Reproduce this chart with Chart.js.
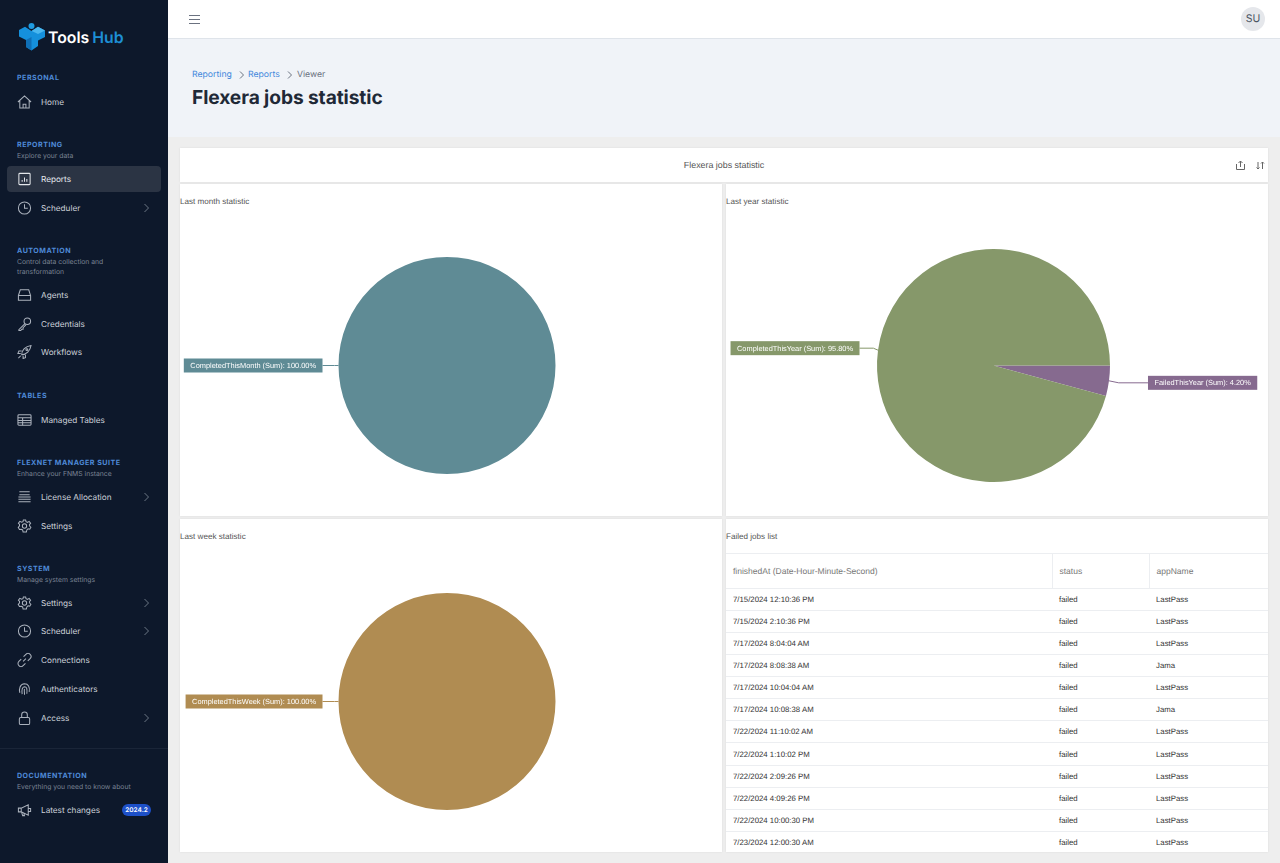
<!DOCTYPE html>
<html>
<head>
<meta charset="utf-8">
<title>Flexera jobs statistic</title>
<script src="https://cdn.jsdelivr.net/npm/chart.js@4/dist/chart.umd.min.js"></script>
<style>
* { box-sizing: border-box; }
html, body { margin: 0; width: 1280px; height: 863px; overflow: hidden; background: #eeeeee; font-family: Inter, sans-serif; text-rendering: geometricPrecision; }
.abs { position: absolute; white-space: nowrap; }
#side { position: absolute; left: 0; top: 0; width: 168px; height: 863px; background: #0d182b; }
#side .sec { position: absolute; left: 17px; font-size: 7.1px; font-weight: 700; letter-spacing: .5px; color: #4f8ad8; white-space: nowrap; margin-top: 1px; }
#side .sub { position: absolute; left: 17px; font-size: 6.8px; line-height: 10px; color: #7b8494; white-space: nowrap; margin-top: 1px; }
#side .item { position: absolute; left: 41px; font-size: 8.2px; color: #ccd1d9; white-space: nowrap; transform: translateY(-50%); }
#side svg.ic { position: absolute; left: 17px; width: 15px; height: 15px; fill: none; stroke: #aab1bc; stroke-width: 1.1; transform: translateY(-50%); }
#side svg.ch { position: absolute; left: 143px; width: 7px; height: 9px; fill: none; stroke: #6d7685; stroke-width: 1; transform: translateY(-50%); }
#head { position: absolute; left: 168px; top: 0; width: 1112px; height: 39px; background: #fff; border-bottom: 1px solid #dfe4ea; }
#band { position: absolute; left: 168px; top: 39px; width: 1112px; height: 98px; background: #f0f3f8; }
.panel { position: absolute; background: #fff; box-shadow: 0 0 2px rgba(0,0,0,.08); }
.ptitle { position: absolute; font: 8.1px "Liberation Sans", sans-serif; color: #555; white-space: nowrap; }
canvas { position: absolute; left: 0; top: 0; }
#tbl { position: absolute; left: 0; top: 34px; width: 542px; height: 299px; overflow: hidden; }
table { border-collapse: collapse; width: 542px; table-layout: fixed; font: 7.8px "Liberation Sans", sans-serif; color: #333; }
th { font-weight: 400; font-size: 8.5px; color: #777; text-align: left; height: 34.5px; padding: 0 0 0 7px; border: 1px solid #eceef1; border-left: 0; border-right: 1px solid #eceef1; }
td { height: 22.15px; padding: 0 0 0 7px; border-bottom: 1px solid #eceef1; }
</style>
</head>
<body>
<svg width="0" height="0" style="position:absolute">
  <symbol id="i-home" viewBox="0 0 16 16"><path d="M1 8 8 1.5 15 8M3 6.5V14.5H13V6.5M6.5 14.5V10.5H9.5V14.5"/></symbol>
  <symbol id="i-rep" viewBox="0 0 16 16"><rect x="2" y="2" width="12" height="12" rx="1"/><path d="M5.5 11V9M8 11V6.5M10.5 11V8"/></symbol>
  <symbol id="i-clock" viewBox="0 0 16 16"><circle cx="8" cy="8" r="6.5"/><path d="M8 4V8.3H11.5"/></symbol>
  <symbol id="i-agent" viewBox="0 0 16 16"><path d="M1.5 8.5 3.5 2.5H12.5L14.5 8.5V13.5H1.5ZM1.5 8.5H14.5"/></symbol>
  <symbol id="i-key" viewBox="0 0 16 16"><circle cx="11" cy="5" r="3.5"/><path d="M8.5 7.5 2 14V15H4L5 13.5H6.5V12L9.5 9"/></symbol>
  <symbol id="i-rocket" viewBox="0 0 16 16"><path d="M5 11C5 6 9 2 15 1C14 7 10 11 5 11ZM5 7H2L1 9.500 4 9.500M9 11V14L6.500 15V12M4 12 1.500 14.500"/><circle cx="10.500" cy="5.500" r="1"/></symbol>
  <symbol id="i-table" viewBox="0 0 16 16"><rect x="1" y="2.500" width="14" height="11" rx="1"/><path d="M1 5.500H15M1 8.500H15M1 11H15M6 5.500V13.500"/></symbol>
  <symbol id="i-lic" viewBox="0 0 16 16"><path d="M2.500 2.500H13.500M2.500 5.500H13.500M1.500 8H14.500M1.500 10.500H14.500M1.500 13H14.500"/></symbol>
  <symbol id="i-gear" viewBox="0 0 16 16"><circle cx="8" cy="8" r="2.300"/><path d="M6.800 1.500H9.200L9.600 3.400 11.200 4.100 12.900 3.100 14.500 5 13.300 6.500 13.500 8 14.800 9.300 13.600 11.400 11.800 11 10.500 12.200 10 14.500H6.500L6 12.200 4.500 11.400 2.600 11.700 1.300 9.400 2.600 8 2.700 6.400 1.500 5 3 3.100 4.900 4 6.400 3.300Z"/></symbol>
  <symbol id="i-link" viewBox="0 0 16 16"><path d="M6.500 9.500 9.500 6.500M7 4.500 9.500 2A3 3 0 0 1 14 6.500L11.500 9M9 11.500 6.500 14A3 3 0 0 1 2 9.500L4.500 7"/></symbol>
  <symbol id="i-finger" viewBox="0 0 16 16"><path d="M3 12C2 8 3 3 8 2.500C12 2.500 14 6 13 11M5.500 13.500C5 10 5 6 8 5.500C10.500 5.500 11 8 10.500 13M8 14C8 11 7.500 9.500 8 8"/></symbol>
  <symbol id="i-lock" viewBox="0 0 16 16"><rect x="2.500" y="7.500" width="11" height="7.500" rx="1.500"/><path d="M5 7.500V4.500A3 3 0 0 1 11 4.500V7.500"/></symbol>
  <symbol id="i-mega" viewBox="0 0 16 16"><path d="M1.500 6V10H4.500L12 13.500V2.500L4.500 6ZM4.500 6V10M5 10.500 6 14H8L7.300 11.500M12 6.500H14.500V9.500H12"/></symbol>
  <symbol id="i-chev" viewBox="0 0 7 9"><path d="M1.500 .5 5.500 4.500 1.500 8.500"/></symbol>
</svg>

<div id="side">
  <svg class="abs" style="left:18px;top:22px" width="28" height="29" viewBox="0 0 28 29">
    <circle cx="13.500" cy="4" r="3" fill="#1f9be0"/>
    <path d="M1 8 7 4.800 13.500 9 20 4.800 27 8.500V15L20 18.500V24L13.500 28.500 8 25V18L1 14.500Z" fill="#1590dc"/>
    <path d="M13.500 9 20 4.800 27 8.500 20 12 17 10.500Z" fill="#4ab6ee"/>
    <path d="M8 18V25L13.500 28.500V15Z" fill="#0f6fb6"/>
  </svg>
  <div class="abs" style="left:48px;top:27px;font-size:15.800px;font-weight:600;line-height:22px;color:#fff">Tools<span style="color:#1d8fd6;margin-left:3px">Hub</span></div>

  <div class="sec" style="top:72px">PERSONAL</div>
  <svg class="ic" style="top:102px"><use href="#i-home"/></svg><div class="item" style="top:102px">Home</div>

  <div class="sec" style="top:139px">REPORTING</div>
  <div class="sub" style="top:150px">Explore your data</div>
  <div class="abs" style="left:7px;top:166px;width:154px;height:26px;border-radius:4px;background:#2b3444"></div>
  <svg class="ic" style="top:179px;stroke:#e3e6ea"><use href="#i-rep"/></svg><div class="item" style="top:179px;color:#e6e9ee">Reports</div>
  <svg class="ic" style="top:208px"><use href="#i-clock"/></svg><div class="item" style="top:208px">Scheduler</div><svg class="ch" style="top:208px"><use href="#i-chev"/></svg>

  <div class="sec" style="top:245px">AUTOMATION</div>
  <div class="sub" style="top:256px">Control data collection and<br>transformation</div>
  <svg class="ic" style="top:295px"><use href="#i-agent"/></svg><div class="item" style="top:295px">Agents</div>
  <svg class="ic" style="top:324px"><use href="#i-key"/></svg><div class="item" style="top:324px">Credentials</div>
  <svg class="ic" style="top:352px"><use href="#i-rocket"/></svg><div class="item" style="top:352px">Workflows</div>

  <div class="sec" style="top:390px">TABLES</div>
  <svg class="ic" style="top:420px"><use href="#i-table"/></svg><div class="item" style="top:420px">Managed Tables</div>

  <div class="sec" style="top:457px">FLEXNET MANAGER SUITE</div>
  <div class="sub" style="top:468px">Enhance your FNMS instance</div>
  <svg class="ic" style="top:497px"><use href="#i-lic"/></svg><div class="item" style="top:497px">License Allocation</div><svg class="ch" style="top:497px"><use href="#i-chev"/></svg>
  <svg class="ic" style="top:526px"><use href="#i-gear"/></svg><div class="item" style="top:526px">Settings</div>

  <div class="sec" style="top:563px">SYSTEM</div>
  <div class="sub" style="top:574px">Manage system settings</div>
  <svg class="ic" style="top:603px"><use href="#i-gear"/></svg><div class="item" style="top:603px">Settings</div><svg class="ch" style="top:603px"><use href="#i-chev"/></svg>
  <svg class="ic" style="top:631px"><use href="#i-clock"/></svg><div class="item" style="top:631px">Scheduler</div><svg class="ch" style="top:631px"><use href="#i-chev"/></svg>
  <svg class="ic" style="top:660px"><use href="#i-link"/></svg><div class="item" style="top:660px">Connections</div>
  <svg class="ic" style="top:689px"><use href="#i-finger"/></svg><div class="item" style="top:689px">Authenticators</div>
  <svg class="ic" style="top:718px"><use href="#i-lock"/></svg><div class="item" style="top:718px">Access</div><svg class="ch" style="top:718px"><use href="#i-chev"/></svg>

  <div class="abs" style="left:0;top:748px;width:168px;height:1px;background:#1a2538"></div>
  <div class="sec" style="top:770px">DOCUMENTATION</div>
  <div class="sub" style="top:781px">Everything you need to know about</div>
  <svg class="ic" style="top:810px"><use href="#i-mega"/></svg><div class="item" style="top:810px">Latest changes</div>
  <div class="abs" style="left:122px;top:804px;width:29px;height:12px;border-radius:6px;background:#1d50c8;color:#fff;font-size:6.500px;font-weight:600;line-height:12px;text-align:center">2024.2</div>
</div>

<div id="head">
  <svg class="abs" style="left:21px;top:15px" width="11" height="9" fill="none" stroke="#6b7280" stroke-width="1"><path d="M0 .5H11M0 4.500H11M0 8.500H11"/></svg>
  <div class="abs" style="left:1073px;top:7px;width:24px;height:24px;border-radius:50%;background:#e5e7eb;color:#4b5563;font-size:10.500px;line-height:24px;text-align:center">SU</div>
</div>

<div id="band">
  <div class="abs" style="left:24px;top:29.500px;font-size:8.700px;line-height:12px;color:#3f87dc">Reporting</div>
  <svg class="abs" style="left:70.500px;top:31.500px" width="6" height="8" fill="none" stroke="#6b7280"><path d="M1 .5 4.500 4 1 7.500"/></svg>
  <div class="abs" style="left:80px;top:29.500px;font-size:8.700px;line-height:12px;color:#3f87dc">Reports</div>
  <svg class="abs" style="left:118.500px;top:31.500px" width="6" height="8" fill="none" stroke="#6b7280"><path d="M1 .5 4.500 4 1 7.500"/></svg>
  <div class="abs" style="left:129px;top:29.500px;font-size:8.700px;line-height:12px;color:#6b7280">Viewer</div>
  <div class="abs" style="left:24px;top:45px;font-size:19.200px;font-weight:700;line-height:26px;letter-spacing:-.1px;color:#1f2937">Flexera jobs statistic</div>
</div>

<div class="panel" style="left:180px;top:148px;width:1088px;height:34px">
  <div class="abs" style="left:0;width:1088px;top:12px;text-align:center;font:8.900px 'Liberation Sans',sans-serif;color:#555">Flexera jobs statistic</div>
  <svg class="abs" style="left:1056px;top:12px" width="9" height="10" fill="none" stroke="#666" stroke-width="1"><path d="M.5 4V9.500H8.500V4M4.500 7V1M2.500 3 4.500 1 6.500 3"/></svg>
  <svg class="abs" style="left:1076px;top:13px" width="9" height="9" fill="none" stroke="#666" stroke-width="1"><path d="M2 1V8M.5 6.500 2 8 3.500 6.500M6.500 8V1M5 2.500 6.500 1 8 2.500"/></svg>
</div>

<div class="panel" style="left:180px;top:184px;width:542px;height:332px">
  <div class="ptitle" style="left:0;top:13px">Last month statistic</div>
  <canvas id="monthChart" width="542" height="332"></canvas>
</div>
<div class="panel" style="left:726px;top:184px;width:542px;height:332px">
  <div class="ptitle" style="left:0;top:13px">Last year statistic</div>
  <canvas id="yearChart" width="542" height="332"></canvas>
</div>
<div class="panel" style="left:180px;top:519px;width:542px;height:333px">
  <div class="ptitle" style="left:0;top:13px">Last week statistic</div>
  <canvas id="weekChart" width="542" height="333"></canvas>
</div>
<div class="panel" style="left:726px;top:519px;width:542px;height:333px">
  <div class="ptitle" style="left:0;top:13px">Failed jobs list</div>
  <div id="tbl"></div>
</div>

<script>
const monthLabels = ['CompletedThisMonth (Sum)'];
const monthValues = [100];
const yearLabels = ['FailedThisYear (Sum)', 'CompletedThisYear (Sum)'];
const yearValues = [4.2, 95.8];
const weekLabels = ['CompletedThisWeek (Sum)'];
const weekValues = [100];

const tableColumns = ['finishedAt (Date-Hour-Minute-Second)', 'status', 'appName'];
const finishedAt = [
    '7/15/2024 12:10:36 PM', '7/15/2024 2:10:36 PM', '7/17/2024 8:04:04 AM', '7/17/2024 8:08:38 AM',
    '7/17/2024 10:04:04 AM', '7/17/2024 10:08:38 AM', '7/22/2024 11:10:02 AM', '7/22/2024 1:10:02 PM',
    '7/22/2024 2:09:26 PM', '7/22/2024 4:09:26 PM', '7/22/2024 10:00:30 PM', '7/23/2024 12:00:30 AM'
];
const statuses = ['failed', 'failed', 'failed', 'failed', 'failed', 'failed', 'failed', 'failed', 'failed', 'failed', 'failed', 'failed'];
const appNames = ['LastPass', 'LastPass', 'LastPass', 'Jama', 'LastPass', 'Jama', 'LastPass', 'LastPass', 'LastPass', 'LastPass', 'LastPass', 'LastPass'];

// leader line + coloured tag next to each slice
const calloutPlugin = {
    id: 'callout',
    afterDraw(chart, args, opts) {
        const ctx = chart.ctx;
        const meta = chart.getDatasetMeta(0);
        const values = chart.data.datasets[0].data;
        const total = values.reduce((a, b) => a + b, 0);
        ctx.save();
        ctx.textRendering = 'geometricPrecision';
        ctx.font = '7.4px "Liberation Sans", sans-serif';
        ctx.textBaseline = 'middle';
        meta.data.forEach((arc, i) => {
            const color = chart.data.datasets[0].backgroundColor[i];
            const mid = (arc.startAngle + arc.endAngle) / 2;
            const ex = arc.x + Math.cos(mid) * arc.outerRadius;
            const ey = arc.y + Math.sin(mid) * arc.outerRadius;
            const right = Math.cos(mid) > 0;
            const text = chart.data.labels[i] + ': ' + (values[i] / total * 100).toFixed(2) + '%';
            const w = ctx.measureText(text).width + 13;
            const h = 14;
            const gap = opts.gaps[i];
            const ty = ey + opts.shifts[i];
            const x = right ? ex + gap : ex - gap - w;

            ctx.strokeStyle = color;
            ctx.lineWidth = 1;
            ctx.beginPath();
            ctx.moveTo(ex, ey);
            ctx.lineTo(right ? ex + gap / 4 : ex - gap / 4, ty);
            ctx.lineTo(right ? x : x + w, ty);
            ctx.stroke();

            ctx.fillStyle = color;
            ctx.fillRect(x, ty - h / 2, w, h);
            ctx.fillStyle = '#fff';
            ctx.fillText(text, x + 6.5, ty + 0.5);
        });
        ctx.restore();
    }
};

function makePie(id, labels, values, colors, rotation, padding, gaps, shifts) {
    return new Chart(document.getElementById(id).getContext('2d'), {
        type: 'pie',
        data: {
            labels: labels,
            datasets: [{ data: values, backgroundColor: colors, borderWidth: 0 }]
        },
        options: {
            responsive: false,
            animation: false,
            rotation: rotation,
            layout: { padding: padding },
            plugins: {
                legend: { display: false },
                tooltip: { enabled: false },
                callout: { gaps: gaps, shifts: shifts }
            }
        },
        plugins: [calloutPlugin]
    });
}

makePie('monthChart', monthLabels, monthValues, ['#5f8b95'], 90,
    { top: 73, bottom: 42, left: 0, right: 8 }, [16], [0]);
makePie('yearChart', yearLabels, yearValues, ['#866a8f', '#86986a'], 90,
    { top: 65, bottom: 34, left: 1, right: 8 }, [39, 18.5], [2, -2]);
makePie('weekChart', weekLabels, weekValues, ['#b08c52'], 90,
    { top: 74, bottom: 42, left: 0, right: 8 }, [16], [0]);

let html = '<table><colgroup><col style="width:326px"><col style="width:97px"><col style="width:119px"></colgroup><tr>';
tableColumns.forEach(c => { html += '<th>' + c + '</th>'; });
html += '</tr>';
finishedAt.forEach((f, i) => {
    html += '<tr><td>' + f + '</td><td>' + statuses[i] + '</td><td>' + appNames[i] + '</td></tr>';
});
document.getElementById('tbl').innerHTML = html + '</table>';
</script>
</body>
</html>
